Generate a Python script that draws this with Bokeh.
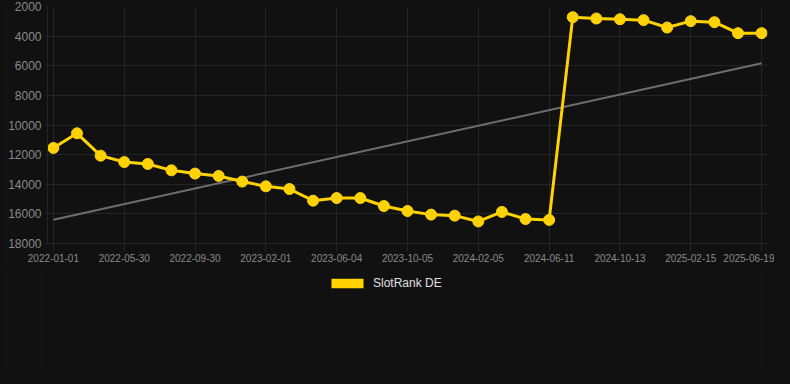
from bokeh.plotting import figure
from bokeh.layouts import column
from bokeh.models import (Range1d, FixedTicker, SingleIntervalTicker, BasicTickFormatter,
                          Legend, LegendItem, GlobalInlineStyleSheet)
from bokeh.embed import file_html
from bokeh.resources import INLINE

# ---- data ----
rank_de = [11550, 10560, 12070, 12500, 12630, 13060, 13280, 13440, 13820, 14140,
           14320, 15110, 14930, 14930, 15470, 15810, 16050, 16120, 16510, 15870,
           16350, 16410, 2720, 2810, 2860, 2920, 3420, 2990, 3060, 3800, 3800]
tick_labels = ["2022-01-01", "2022-05-30", "2022-09-30", "2023-02-01", "2023-06-04",
               "2023-10-05", "2024-02-05", "2024-06-11", "2024-10-13", "2025-02-15",
               "2025-06-19"]
label_every = 3
trend_values = [16390, 5830]
series_name = "SlotRank DE"

x = list(range(len(rank_de)))
tick_pos = [i * label_every for i in range(len(tick_labels))]
trend_x = [x[0], x[-1]]

BG = "#111111"
GRID = "#242424"
GOLD = "#FFD200"
FONT = "Liberation Sans"
XPAD = 0.25

p = figure(width=774, height=270, output_backend="svg", toolbar_location=None,
           x_range=Range1d(x[0] - XPAD, x[-1] + XPAD), y_range=Range1d(18000, 2000),
           background_fill_color=BG, border_fill_color=BG,
           min_border_left=47, min_border_right=7, min_border_top=6, min_border_bottom=27)
p.outline_line_color = None
p.stylesheets = [GlobalInlineStyleSheet(css="body{background:#111111;}")]

# axes
p.xaxis.ticker = FixedTicker(ticks=tick_pos)
p.xaxis.major_label_overrides = {pos: lab for pos, lab in zip(tick_pos, tick_labels)}
p.yaxis.ticker = SingleIntervalTicker(interval=2000)
p.yaxis.formatter = BasicTickFormatter(use_scientific=False)
for ax in (p.xaxis, p.yaxis):
    ax.axis_line_color = GRID
    ax.major_tick_line_color = GRID
    ax.major_tick_in = 0
    ax.minor_tick_line_color = None
    ax.major_label_standoff = 2
    ax.major_label_text_font = FONT
    ax.major_label_text_color = "#8a8a8a"
p.xaxis.major_tick_out = 8
p.yaxis.major_tick_out = 2
p.xaxis.major_label_text_font_size = "10px"
p.yaxis.major_label_text_font_size = "12px"

p.xgrid.ticker = FixedTicker(ticks=tick_pos)
p.xgrid.grid_line_color = GRID
p.ygrid.grid_line_color = GRID

# trend line
p.line(trend_x, trend_values, line_width=2, line_color="#6e6e6e")

# series
p.line(x, rank_de, line_width=3, line_color=GOLD)
p.scatter(x, rank_de, size=11, fill_color=GOLD, line_color=GOLD)

# legend strip below the chart
leg = figure(width=774, height=98, output_backend="svg", toolbar_location=None,
             x_range=Range1d(0, 1), y_range=Range1d(0, 1),
             background_fill_color=BG, border_fill_color=BG, min_border=0)
leg.outline_line_color = None
leg.axis.visible = False
leg.grid.visible = False
swatch = leg.block(x=[0], y=[0], width=0, height=0, fill_color=GOLD, line_color=None)
legend = Legend(items=[LegendItem(label=series_name, renderers=[swatch])],
                location=(280, 78), orientation="horizontal",
                glyph_width=40, glyph_height=12, label_height=12,
                label_standoff=6, padding=0, margin=0, spacing=0,
                border_line_color=None, background_fill_alpha=0,
                label_text_font=FONT, label_text_font_size="12px",
                label_text_color="#e0e0e0")
leg.add_layout(legend, "center")

layout = column(p, leg, spacing=0)
open("out.html", "w").write(file_html(layout, INLINE))
